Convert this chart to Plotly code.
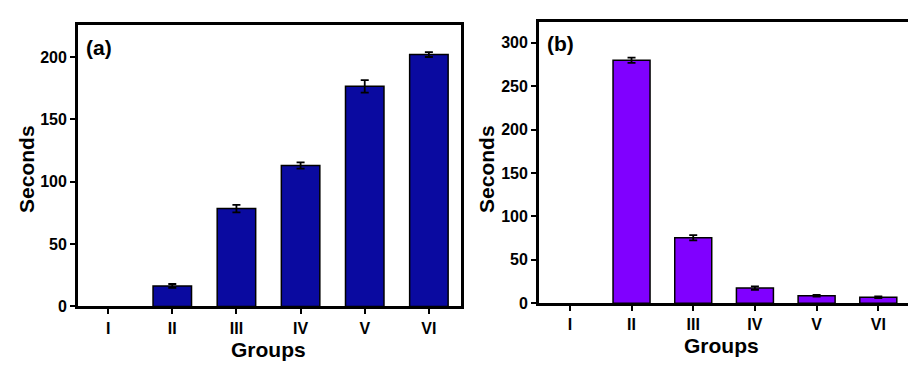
import plotly.graph_objects as go

groups = ["I", "II", "III", "IV", "V", "VI"]
seconds_a = [0, 16.5, 78.5, 113, 176.5, 202]
err_a = [0, 1.5, 3, 2.5, 5, 2]
seconds_b = [0, 280, 75.5, 17.5, 8.5, 7]
err_b = [0, 3, 3, 2, 1, 1]

FONT = "Liberation Sans, Arial, sans-serif"


def add_panel(fig, ys, errs, color, xa, ya):
    edge = [0 if v == 0 else 1.5 for v in ys]
    fig.add_trace(go.Bar(
        x=groups, y=ys, width=0.6,
        marker=dict(color=color, line=dict(color="black", width=edge)),
        xaxis=xa, yaxis=ya, showlegend=False, hoverinfo="x+y"))
    keep = [i for i, v in enumerate(ys) if v != 0]
    fig.add_trace(go.Scatter(
        x=[groups[i] for i in keep], y=[ys[i] for i in keep],
        mode="markers", marker=dict(size=1, opacity=0),
        error_y=dict(type="data", array=[errs[i] for i in keep],
                     color="black", thickness=1.8, width=4),
        xaxis=xa, yaxis=ya, showlegend=False, hoverinfo="skip"))


fig = go.Figure()
add_panel(fig, seconds_a, err_a, "#0A0AA0", "x", "y")
add_panel(fig, seconds_b, err_b, "#8000FF", "x2", "y2")

axis_common = dict(showline=True, linecolor="black", linewidth=2.8, mirror=True,
                   ticks="outside", ticklen=5, tickwidth=2.2, tickcolor="black",
                   showgrid=False, zeroline=False,
                   tickfont=dict(family=FONT, size=16, color="black", weight="bold"))

fig.update_layout(
    width=916, height=365,
    margin=dict(l=0, r=0, t=0, b=0),
    paper_bgcolor="white", plot_bgcolor="white",
    xaxis=dict(domain=[0.0764, 0.4945], anchor="y", range=[-0.47, 5.5],
               type="category", **axis_common),
    yaxis=dict(domain=[0.1616, 0.9534], anchor="x", range=[0, 226],
               tickvals=[0, 50, 100, 150, 200], **axis_common),
    xaxis2=dict(domain=[0.5797, 0.9858], anchor="y2", range=[-0.5, 5.53],
                type="category", **axis_common),
    yaxis2=dict(domain=[0.1707, 0.9616], anchor="x2", range=[0, 324.4],
                tickvals=[0, 50, 100, 150, 200, 250, 300], **axis_common),
)


def txt(x, y, s, size=21, angle=0, xanchor="center"):
    fig.add_annotation(x=x / 916, y=1 - y / 365, xref="paper", yref="paper",
                       text=s, showarrow=False, textangle=angle,
                       xanchor=xanchor, yanchor="middle",
                       font=dict(family=FONT, size=size, color="black", weight="bold"))


txt(260, 350, "Groups", size=21)
txt(713, 346, "Groups", size=21)
txt(19, 165, "Seconds", angle=-90)
txt(479, 165, "Seconds", angle=-90)
txt(76, 41, "(a)", size=21, xanchor="left")
txt(537, 36, "(b)", size=21, xanchor="left")

fig.write_html("out.html")
